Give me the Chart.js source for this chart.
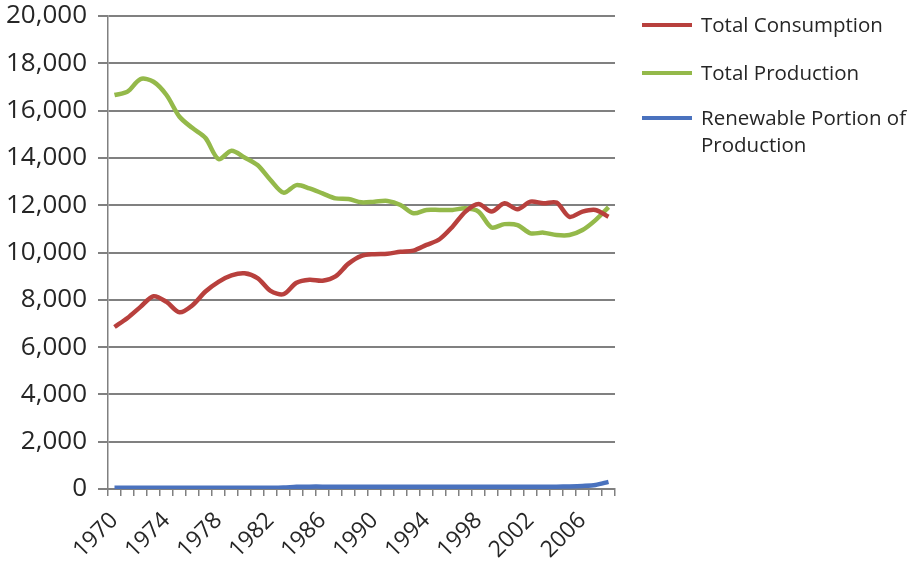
<!DOCTYPE html>
<html>
<head>
<meta charset="utf-8">
<script src="https://cdn.jsdelivr.net/npm/chart.js@4"></script>
<style>
  html, body { margin: 0; padding: 0; background: #fff; }
  #wrap { position: relative; width: 910px; height: 571px; overflow: hidden; }
  #legend { position: absolute; left: 642px; top: 0; width: 268px; font-family: "Open Sans", sans-serif; font-size: 20.5px; color: #262626; }
  .item { position: absolute; left: 0; white-space: nowrap; }
  .swatch { position: absolute; left: 0; width: 50px; height: 4px; }
  .txt { position: absolute; left: 59px; line-height: 27px; }
</style>
</head>
<body>
<div id="wrap">
  <canvas id="c" width="910" height="571"></canvas>
  <div id="legend"></div>
</div>
<script>
const years = [];
for (let y = 1970; y <= 2008; y++) years.push(String(y));

const consumption = [6850,7230,7700,8150,7910,7470,7770,8350,8760,9030,
                     9120,8920,8380,8240,8720,8850,8810,8990,9530,9860,
                     9930,9950,10030,10080,10320,10560,11090,11730,12050,11730,
                     12080,11830,12150,12080,12110,11510,11730,11800,11510];
const production = [16660,16800,17335,17220,16660,15740,15260,14840,13950,14300,
                    14020,13700,13065,12530,12850,12710,12500,12290,12260,12120,
                    12150,12180,12010,11660,11800,11800,11800,11870,11730,11060,
                    11200,11160,10810,10840,10740,10740,10950,11370,11920];
const renewable = [50,50,50,50,50,50,50,50,50,50,
                   50,50,50,60,90,100,100,100,100,100,
                   100,100,100,100,100,100,100,100,100,100,
                   100,100,100,100,100,110,130,170,300];
const yTicks = [0,2000,4000,6000,8000,10000,12000,14000,16000,18000,20000];
const seriesNames = ["Total Consumption", "Total Production", ["Renewable Portion of", "Production"]];
const seriesColors = ["#B8403D", "#94B94A", "#4A72BE"];

const series = [consumption, production, renewable];
const datasets = series.map((d, i) => ({
  label: Array.isArray(seriesNames[i]) ? seriesNames[i].join(" ") : seriesNames[i],
  data: d,
  borderColor: seriesColors[i],
  backgroundColor: seriesColors[i],
  borderWidth: 4.5,
  pointRadius: 0,
  tension: 0.3,
  fill: false
}));

new Chart(document.getElementById("c"), {
  type: "line",
  data: { labels: years, datasets: datasets },
  options: {
    responsive: false,
    animation: false,
    layout: { padding: { top: 16, right: 295, left: 0, bottom: 0 } },
    plugins: { legend: { display: false }, tooltip: { enabled: false } },
    scales: {
      x: {
        type: "category",
        offset: true,
        afterFit: s => { s.height = 82; s.paddingLeft = 0; s.paddingRight = 0; },
        grid: { display: true, drawOnChartArea: false, offset: true, tickLength: 7, color: "#808080", lineWidth: 1.5 },
        border: { display: true, color: "#808080", width: 2 },
        ticks: {
          autoSkip: false, minRotation: 45, maxRotation: 45, padding: 11,
          color: "#262626", font: { family: "Open Sans", size: 23 },
          callback: function(v, i) { return i % 4 === 0 ? years[i] : ""; }
        }
      },
      y: {
        min: 0, max: 20000,
        afterFit: s => { s.width = 108; s.paddingTop = 0; s.paddingBottom = 0; },
        afterBuildTicks: s => { s.ticks = yTicks.map(v => ({ value: v })); },
        grid: { color: "#808080", lineWidth: 2, tickLength: 10 },
        border: { display: true, color: "#808080", width: 1.5 },
        ticks: {
          padding: 11, color: "#262626", font: { family: "Open Sans", size: 26 },
          callback: v => v.toLocaleString("en-US")
        }
      }
    }
  }
});

// HTML legend
const legend = document.getElementById("legend");
const rowY = [25, 73, 118];
seriesNames.forEach((n, i) => {
  const it = document.createElement("div");
  it.className = "item";
  it.style.top = "0px";
  const sw = document.createElement("div");
  sw.className = "swatch";
  sw.style.top = (rowY[i] - 2) + "px";
  sw.style.background = seriesColors[i];
  const t = document.createElement("div");
  t.className = "txt";
  t.style.top = (rowY[i] - 14) + "px";
  t.innerHTML = Array.isArray(n) ? n.join("<br>") : n;
  it.appendChild(sw); it.appendChild(t);
  legend.appendChild(it);
});
</script>
</body>
</html>
